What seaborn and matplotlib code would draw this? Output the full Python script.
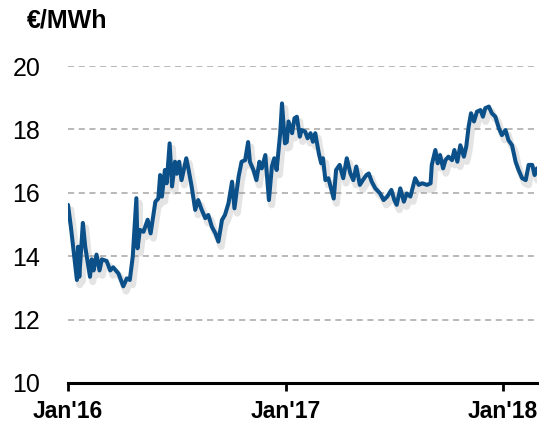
import pandas as pd
import numpy as np
import matplotlib
import matplotlib.pyplot as plt
import matplotlib.dates as mdates
import matplotlib.patheffects as pe
import seaborn as sns

matplotlib.use("Agg")

# days since 1 Jan 2016 and price (EUR/MWh)
days = [0, 5, 15, 17, 19, 25, 29, 37, 40, 43, 48, 53, 57, 65, 71, 76, 85, 93, 99, 104,
        109, 115, 117, 121, 127, 134, 139, 147, 152, 155, 158, 163, 166, 171, 175, 180,
        183, 187, 191, 199, 203, 208, 214, 219, 225, 231, 236, 242, 248, 253, 259, 264,
        270, 276, 280, 287, 292, 298, 303, 306, 312, 317, 322, 326, 332, 338, 343, 347,
        351, 357, 360, 365, 368, 371, 377, 381, 385, 390, 393, 399, 403, 408, 412, 416,
        422, 426, 429, 433, 438, 441, 447, 451, 457, 463, 469, 475, 480, 485, 491, 496,
        502, 506, 511, 517, 525, 531, 537, 544, 549, 553, 559, 565, 570, 576, 584, 590,
        596, 604, 610, 612, 618, 622, 626, 631, 635, 640, 646, 650, 655, 660, 666, 670,
        674, 678, 683, 688, 694, 698, 702, 708, 713, 719, 725, 730, 736, 741, 747, 753,
        758, 764, 770, 775, 781, 785, 789]
price = [15.62, 14.9, 13.25, 14.3, 13.35, 15.05, 14.3, 13.35, 13.9, 13.55, 14.05, 13.55,
         13.9, 13.85, 13.55, 13.65, 13.45, 13.05, 13.3, 13.25, 14.0, 15.83, 14.25, 14.83,
         14.77, 15.15, 14.72, 15.72, 15.82, 16.56, 15.88, 16.72, 16.3, 17.56, 16.2, 16.98,
         16.6, 16.98, 16.4, 17.09, 16.72, 16.2, 15.46, 15.77, 15.46, 15.2, 15.3, 14.93,
         14.72, 14.46, 15.14, 15.3, 15.67, 16.35, 15.51, 16.51, 16.98, 17.03, 17.6, 16.98,
         16.72, 16.4, 16.98, 16.77, 17.19, 15.77, 16.83, 17.09, 16.72, 17.88, 18.82, 17.56,
         17.6, 18.25, 17.88, 18.35, 18.4, 17.77, 17.98, 17.93, 17.72, 17.88, 17.61, 17.88,
         17.24, 16.93, 17.09, 16.4, 16.46, 16.25, 15.82, 16.72, 16.88, 16.46, 17.09, 16.61,
         16.4, 16.83, 16.25, 16.4, 16.56, 16.61, 16.35, 16.14, 15.98, 15.77, 15.88, 16.09,
         15.77, 15.62, 16.14, 15.72, 15.98, 15.88, 16.46, 16.25, 16.3, 16.25, 16.3, 16.88,
         17.35, 16.93, 17.19, 16.77, 17.03, 17.14, 17.03, 17.35, 16.98, 17.5, 17.14, 17.46,
         18.09, 18.51, 18.25, 18.56, 18.61, 18.4, 18.67, 18.72, 18.51, 18.4, 18.03, 17.82,
         17.98, 17.66, 17.5, 16.98, 16.72, 16.46, 16.4, 16.88, 16.88, 16.56, 16.77]

year_ticks = ["2016-01-01", "2017-01-01", "2018-01-01"]
year_labels = ["Jan'16", "Jan'17", "Jan'18"]
y_ticks = [10, 12, 14, 16, 18, 20]

df = pd.DataFrame({
    "date": pd.Timestamp("2016-01-01") + pd.to_timedelta(days, unit="D"),
    "price": price,
})

sns.set_style("white")
plt.rcParams["font.family"] = ["Liberation Sans", "DejaVu Sans"]
plt.rcParams["text.color"] = "black"
plt.rcParams["xtick.color"] = "black"
plt.rcParams["ytick.color"] = "black"

fig = plt.figure(figsize=(5.39, 4.26), dpi=100)
ax = fig.add_axes([68 / 539, 1 - 383 / 426, (537 - 68) / 539, (383 - 66) / 426])

# line with a soft drop shadow underneath
sns.lineplot(data=df, x="date", y="price", ax=ax, color="#0b5089", linewidth=2.9,
             path_effects=[pe.SimpleLineShadow(offset=(2, -3.5), shadow_color="#888888",
                                               alpha=0.22, linewidth=5),
                           pe.Normal()])

ax.set_ylim(10, 20)
ax.set_yticks(y_ticks)
ax.set_xlim(pd.Timestamp("2016-01-01"), pd.Timestamp("2018-02-28"))
ax.set_xticks(pd.to_datetime(year_ticks))
ax.set_xticklabels(year_labels, fontsize=16.5, fontweight="bold")
ax.tick_params(axis="y", length=0, labelsize=18, pad=20)
ax.tick_params(axis="x", length=6, width=2, direction="out", pad=6, bottom=True)
ax.set_xlabel("")
ax.set_ylabel("")

for v in y_ticks[1:]:
    ax.axhline(v, color="#a6a6a6", linewidth=1.1, linestyle=(0, (4, 3)), zorder=0)

for s in ["top", "right", "left"]:
    ax.spines[s].set_visible(False)
ax.spines["bottom"].set_linewidth(2.2)
ax.spines["bottom"].set_color("black")

fig.text(27 / 539, 1 - 28 / 426, "€/MWh", fontsize=18, fontweight="bold",
         ha="left", va="baseline")

fig.savefig("out.png", dpi=100)
